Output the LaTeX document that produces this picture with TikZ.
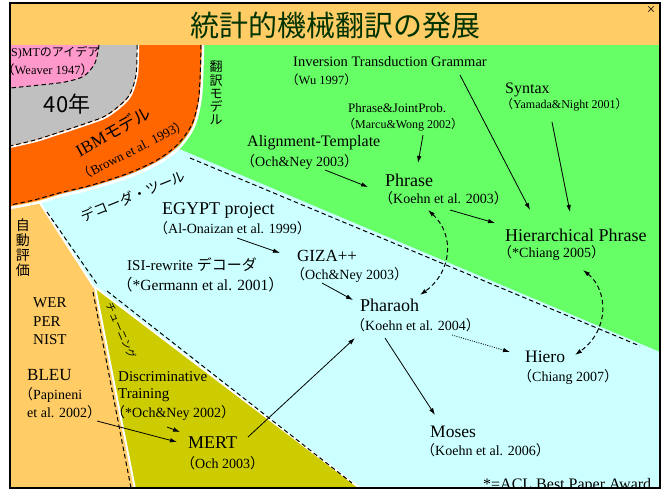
\documentclass[tikz,border=0pt]{standalone}
\usepackage{fontspec}
\setmainfont{Liberation Serif}
\newfontfamily\jp{Noto Sans CJK JP}
\usetikzlibrary{arrows.meta,calc}
\newcommand\fsz[1]{\fontsize{#1}{#1}\selectfont}
\newcommand\JL{{\jp （}}
\newcommand\JR{{\jp ）}}
\definecolor{bandor}{HTML}{FFCC66}
\definecolor{pinkA}{HTML}{FF99CC}
\definecolor{grayA}{HTML}{C0C0C0}
\definecolor{orangeA}{HTML}{FF6600}
\definecolor{greenA}{HTML}{66FF66}
\definecolor{cyanA}{HTML}{CCFFFF}
\definecolor{oliveA}{HTML}{CCCC00}
\definecolor{titleG}{HTML}{003300}
\begin{document}
\begin{tikzpicture}[x=1pt,y=-1pt,
  >={Latex[length=7pt,width=4.5pt]},
  lbl/.style={inner sep=0pt, anchor=west},
  arr/.style={->, line width=0.8pt},
  dsh/.style={dash pattern=on 4.5pt off 3pt, line width=1pt},
  wline/.style={white, line width=2.5pt}]
\useasboundingbox (0,0) rectangle (669,490);
\fill[white] (0,0) rectangle (669,490);
\begin{scope}
\clip (10,3) rectangle (660,488);
\fill[bandor] (10,3) rectangle (660,45);
\fill[bandor] (10,45) rectangle (660,488);
% green
\fill[greenA] (185,45) -- (660,45) -- (660,353) -- (177,150) -- cycle;
% cyan
\fill[cyanA] (40,202) -- (177,148) -- (660,352) -- (660,488) -- (360,488) -- (93,287) -- cycle;
% olive
\fill[oliveA] (95,287) -- (360,488) -- (134,488) -- cycle;
% gray
\fill[grayA] (10,45) -- (137,45) -- plot[smooth] coordinates {(137,45) (136,75) (128,97) (107,115) (87,123) (60,132) (35,140) (10,146)} -- cycle;
% pink
\fill[pinkA] (10,45) -- (99,45) -- plot[smooth] coordinates {(99,45) (95,63) (84,76) (65,82) (40,85) (10,88)} -- cycle;
% orange
\fill[orangeA] (137,45) -- (202,45) -- plot[smooth] coordinates {(202,45) (200,95) (193,125) (178,146) (158,161) (130,174) (93,186) (60,194) (35,201) (10,206)} -- (10,146) -- plot[smooth] coordinates {(10,146) (35,140) (60,132) (87,123) (107,115) (128,97) (136,75) (137,45)} -- cycle;
% white edges
\draw[wline] plot[smooth] coordinates {(203,45) (201,95) (194,126) (179,148) (159,163) (131,176) (94,188) (61,196) (36,203) (10,208)};
\draw[wline, line width=2pt] plot[smooth] coordinates {(138,45) (137,75) (129,98) (108,116) (88,124) (61,133) (36,141) (10,147)};
\draw[wline, line width=2pt] (40,203) -- (94,287);
\draw[wline, line width=2pt] (95,287) -- (361,489);
\draw[wline, line width=2pt] (95,287) -- (135,489);
% dashed boundaries
\draw[dsh] plot[smooth] coordinates {(99,45) (95,63) (84,76) (65,82) (40,85) (10,88)};
\draw[dsh] plot[smooth] coordinates {(137,45) (136,75) (128,97) (107,115) (87,123) (60,132) (35,140) (10,146)};
\draw[dsh] plot[smooth] coordinates {(201,45) (199,95) (192,124) (177,145) (157,160) (129,173) (92,185) (59,193) (34,200) (10,205)};
\draw[dsh] (190,158) -- (640,346);
\draw[dsh] (47,212) -- (97,284);
\draw[dsh] (107,291) -- (352,483);
\draw[dsh] (93,292) -- (131,488);
% texts near edges
\node[lbl, font=\fsz{12}] (smt) at (11,53) {S)MT{\jp のアイデア}};
\node[lbl, font=\fsz{12.5}] (weaver) at (2,70) {\JL Weaver 1947\JR};
\node[lbl, font=\fsz{16}, anchor=base west] (award) at (483,489) {*=ACL Best Paper Award};
\end{scope}
\draw[line width=2.2pt] (10,3) rectangle (660,488);
% title
\node[font=\jp\fsz{29}, text=titleG, inner sep=0pt] (title) at (335,25) {統計的機械翻訳の発展};
\node[font=\fsz{15}, inner sep=0pt] (closex) at (651,10) {×};
% left area
\node[font=\jp\fsz{22}, inner sep=0pt] (forty) at (67,104) {40年};
\node[align=center, font=\jp\fontsize{13}{13.2}\selectfont, inner sep=0pt] (honyaku) at (216,93) {翻\\訳\\モ\\デ\\ル};
\node[font=\fsz{17}, inner sep=0pt, rotate=29] (ibm) at (113,131) {IBM{\jp モデル}};
\node[font=\fsz{13}, inner sep=0pt, rotate=27] (brown) at (133,150) {\JL Brown et al. 1993\JR};
\node[font=\jp\fsz{14}, inner sep=0pt, rotate=22] (dectool) at (133,196) {デコーダ・ツール};
\node[align=center, font=\jp\fontsize{14}{15}\selectfont, inner sep=0pt] (hyouka) at (23,248) {自\\動\\評\\価};
\node[lbl, font=\fsz{15}] (wer) at (33,303) {WER};
\node[lbl, font=\fsz{15}] (per) at (33,322) {PER};
\node[lbl, font=\fsz{15}] (nist) at (33,340) {NIST};
\node[lbl, font=\fsz{17}] (bleu) at (27,375) {BLEU};
\node[lbl, font=\fsz{14}] (pap1) at (19,395) {\JL Papineni};
\node[lbl, font=\fsz{14}] (pap2) at (27,412) {et al. 2002\JR};
\node[lbl, font=\fsz{15}] (disc) at (118,377) {Discriminative};
\node[lbl, font=\fsz{15}] (train) at (118,395) {Training};
\node[lbl, font=\fsz{14}] (ochney02) at (111,413) {\JL *Och\&Ney 2002\JR};
\node[lbl, font=\fsz{18}] (mert) at (188,443) {MERT};
\node[lbl, font=\fsz{14}] (och03) at (181,463) {\JL Och 2003\JR};
\node[font=\jp\fsz{10}, inner sep=0pt, rotate=-67] (tune) at (121,331) {チューニング};
% cyan area
\node[lbl, font=\fsz{18}] (egypt) at (162,210) {EGYPT project};
\node[lbl, font=\fsz{14}] (alon) at (154,228) {\JL Al-Onaizan et al. 1999\JR};
\node[lbl, font=\fsz{15}] (isi) at (127,265) {ISI-rewrite {\jp デコーダ}};
\node[lbl, font=\fsz{15.5}] (germ) at (117,285) {\JL *Germann et al. 2001\JR};
\node[lbl, font=\fsz{17}] (giza) at (297,256) {GIZA++};
\node[lbl, font=\fsz{14}] (ochney03b) at (291,275) {\JL Och\&Ney 2003\JR};
\node[lbl, font=\fsz{18}] (pharaoh) at (360,305) {Pharaoh};
\node[lbl, font=\fsz{14}] (koehn04) at (351,325) {\JL Koehn et al. 2004\JR};
\node[lbl, font=\fsz{17.5}] (hiero) at (525,357) {Hiero};
\node[lbl, font=\fsz{14}] (chiang07) at (518,377) {\JL Chiang 2007\JR};
\node[lbl, font=\fsz{17.5}] (moses) at (430,432) {Moses};
\node[lbl, font=\fsz{14}] (koehn06) at (421,450) {\JL Koehn et al. 2006\JR};
% green area
\node[lbl, font=\fsz{14.5}] (itg) at (293,62) {Inversion Transduction Grammar};
\node[lbl, font=\fsz{12.5}] (wu) at (286,80) {\JL Wu 1997\JR};
\node[lbl, font=\fsz{16}] (syntax) at (505,90) {Syntax};
\node[lbl, font=\fsz{12}] (yamada) at (501,105) {\JL Yamada\&Night 2001\JR};
\node[lbl, font=\fsz{13}] (pjp) at (348,108) {Phrase\&JointProb.};
\node[lbl, font=\fsz{12}] (marcu) at (343,125) {\JL Marcu\&Wong 2002\JR};
\node[lbl, font=\fsz{16}] (alt) at (247,143) {Alignment-Template};
\node[lbl, font=\fsz{14}] (ochney03a) at (241,162) {\JL Och\&Ney 2003\JR};
\node[lbl, font=\fsz{18}] (phrase) at (385,180) {Phrase};
\node[lbl, font=\fsz{14}] (koehn03) at (379,198) {\JL Koehn et al. 2003\JR};
\node[lbl, font=\fsz{18}] (hp) at (505,235) {Hierarchical Phrase};
\node[lbl, font=\fsz{14}] (chiang05) at (498,253) {\JL *Chiang 2005\JR};
% connectors
\draw[arr] ($(itg.west)+(167,13)$) -- ($(hp.west)+(25,-25)$);
\draw[arr] ($(yamada.west)+(51,17)$) -- ($(hp.west)+(65,-23)$);
\draw[arr] ($(marcu.west)+(80,10)$) -- ($(phrase.west)+(33,-17)$);
\draw[arr] ($(ochney03a.west)+(84,8)$) -- ($(phrase.west)+(-17,7)$);
\draw[arr] ($(koehn03.west)+(71,12)$) -- ($(hp.west)+(-10,-12)$);
\draw[arr] ($(alon.west)+(83,10)$) -- ($(giza.west)+(-17,-3)$);
\draw[arr] ($(ochney03b.west)+(31,8)$) -- ($(pharaoh.west)+(-7,-5)$);
\draw[<->, dsh] ($(koehn03.west)+(49,12)$) .. controls +(27,25) and +(32,-23) .. ($(pharaoh.west)+(60,-10)$);
\draw[<->, dsh] ($(chiang05.west)+(85,17)$) .. controls +(25,20) and +(35,-25) .. ($(hiero.west)+(50,-2)$);
\draw[->, line width=0.8pt, dash pattern=on 1pt off 1.3pt] ($(koehn04.west)+(101,10)$) -- ($(hiero.west)+(-15,-5)$);
\draw[arr] ($(koehn04.west)+(34,13)$) -- ($(moses.west)+(5,-17)$);
\draw[arr] ($(mert.west)+(60,-6)$) -- ($(koehn04.west)+(4,13)$);
\draw[arr] ($(pap2.west)+(70,9)$) -- ($(mert.west)+(-11,-1)$);
\draw[arr] ($(ochney02.west)+(56,14)$) -- ($(mert.west)+(-8,-11)$);
\end{tikzpicture}
\end{document}
